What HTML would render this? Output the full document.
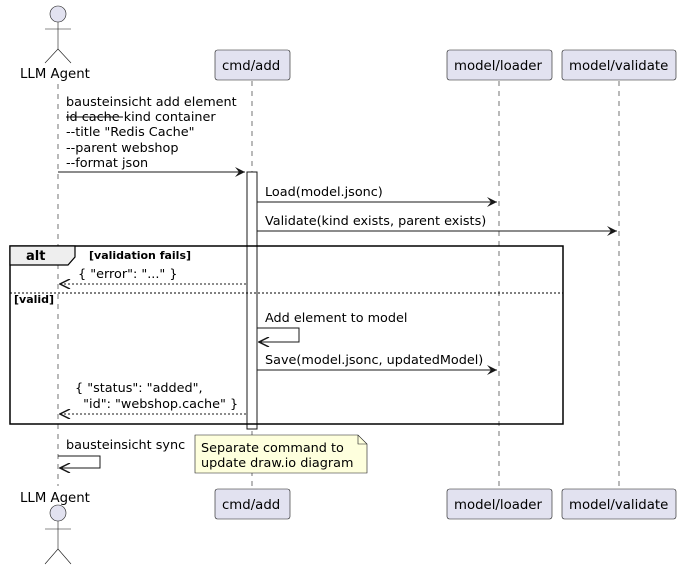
<!DOCTYPE html>
<html><head><meta charset="utf-8"><style>
html,body{margin:0;padding:0;background:#fff}
svg{display:block}
text{font-family:"DejaVu Sans","Liberation Sans",sans-serif;font-size:12.8px;fill:#000;white-space:pre}
.p{font-size:13.3px}
.b{font-weight:bold}
</style></head><body>
<svg width="681" height="569" viewBox="0 0 681 569" xmlns="http://www.w3.org/2000/svg" xml:space="preserve">
<defs>
<marker id="a" viewBox="0 0 10 10" refX="10" refY="5" markerWidth="12" markerHeight="10" orient="auto" markerUnits="userSpaceOnUse"><path d="M0,0 L10,5 L0,10 L4,5 Z" fill="#181818"/></marker>
<marker id="o" viewBox="0 0 10 10" refX="10" refY="5" markerWidth="12" markerHeight="10" orient="auto" markerUnits="userSpaceOnUse"><path d="M0,0 L10,5 L0,10" fill="none" stroke="#181818" stroke-width="1.5"/></marker>
</defs>
<g stroke="#181818" stroke-width="0.6" stroke-dasharray="5,5" fill="none">
<line x1="58" y1="84" x2="58" y2="486"/>
<line x1="252" y1="81" x2="252" y2="489"/>
<line x1="499" y1="81" x2="499" y2="489"/>
<line x1="619" y1="81" x2="619" y2="489"/>
</g>
<g stroke="#181818" stroke-width="0.6" fill="none">
<circle cx="58" cy="14" r="8" fill="#E2E2F0"/>
<line x1="58" y1="22" x2="58" y2="49"/><line x1="45" y1="29" x2="71" y2="29"/>
<line x1="58" y1="49" x2="45" y2="63"/><line x1="58" y1="49" x2="71" y2="63"/>
<circle cx="58" cy="513" r="8" fill="#E2E2F0"/>
<line x1="58" y1="521" x2="58" y2="549"/><line x1="45" y1="529" x2="71" y2="529"/>
<line x1="58" y1="549" x2="45" y2="564"/><line x1="58" y1="549" x2="71" y2="564"/>
</g>
<text x="20" y="78" class="p">LLM Agent</text>
<text x="20" y="502" class="p">LLM Agent</text>
<g fill="#E2E2F0" stroke="#181818" stroke-width="0.6">
<rect x="215" y="50" width="75" height="30" rx="2.5"/>
<rect x="447" y="50" width="105" height="30" rx="2.5"/>
<rect x="562" y="50" width="114" height="30" rx="2.5"/>
<rect x="215" y="489" width="75" height="30" rx="2.5"/>
<rect x="447" y="489" width="105" height="30" rx="2.5"/>
<rect x="562" y="489" width="114" height="30" rx="2.5"/>
</g>
<g class="p">
<text x="222" y="70" class="p">cmd/add</text><text x="454" y="70" class="p">model/loader</text><text x="569" y="70" class="p">model/validate</text>
<text x="222" y="509" class="p">cmd/add</text><text x="454" y="509" class="p">model/loader</text><text x="569" y="509" class="p">model/validate</text>
</g>
<rect x="247" y="172" width="10" height="257" fill="#fff" stroke="#181818" stroke-width="1"/>
<rect x="10" y="246" width="553" height="178" fill="none" stroke="#000" stroke-width="1.5"/>
<path d="M10,246 L75,246 L75,257 L68,265 L10,265 Z" fill="#EEE" stroke="#000" stroke-width="1.2"/>
<text x="26" y="260" class="b" style="font-size:13px">alt</text>
<text x="89" y="259" class="b" style="font-size:11px">[validation fails]</text>
<line x1="10" y1="293" x2="563" y2="293" stroke="#000" stroke-width="1" stroke-dasharray="2,2"/>
<text x="14" y="303" class="b" style="font-size:11px">[valid]</text>
<text x="66" y="106">bausteinsicht add element</text>
<text x="66" y="121">id cache kind container</text>
<line x1="66" y1="117" x2="123" y2="117" stroke="#000" stroke-width="1"/>
<text x="66" y="136">--title "Redis Cache"</text>
<text x="66" y="152">--parent webshop</text>
<text x="66" y="167">--format json</text>
<line x1="58" y1="172" x2="245" y2="172" stroke="#181818" marker-end="url(#a)"/>
<text x="265" y="196">Load(model.jsonc)</text>
<line x1="257" y1="202" x2="497" y2="202" stroke="#181818" marker-end="url(#a)"/>
<text x="265" y="225">Validate(kind exists, parent exists)</text>
<line x1="257" y1="231" x2="617" y2="231" stroke="#181818" marker-end="url(#a)"/>
<text x="78" y="278">{ "error": "..." }</text>
<line x1="246" y1="284" x2="60" y2="284" stroke="#181818" stroke-dasharray="2,2" marker-end="url(#o)"/>
<text x="265" y="322">Add element to model</text>
<polyline points="257,328 299,328 299,342 259,342" fill="none" stroke="#181818" marker-end="url(#o)"/>
<text x="265" y="364">Save(model.jsonc, updatedModel)</text>
<line x1="257" y1="370" x2="497" y2="370" stroke="#181818" marker-end="url(#a)"/>
<text x="75" y="392">{ "status": "added",</text>
<text x="75" y="408">  "id": "webshop.cache" }</text>
<line x1="246" y1="414" x2="60" y2="414" stroke="#181818" stroke-dasharray="2,2" marker-end="url(#o)"/>
<text x="66" y="449">bausteinsicht sync</text>
<polyline points="58,456 100,456 100,468 60,468" fill="none" stroke="#181818" marker-end="url(#o)"/>
<path d="M195,435 L358,435 L367,444 L367,473 L195,473 Z" fill="#FEFFDD" stroke="#181818" stroke-width="0.6"/>
<path d="M358,435 L358,444 L367,444" fill="none" stroke="#181818" stroke-width="0.6"/>
<text x="201" y="452">Separate command to</text>
<text x="201" y="467">update draw.io diagram</text>
</svg>
</body></html>
